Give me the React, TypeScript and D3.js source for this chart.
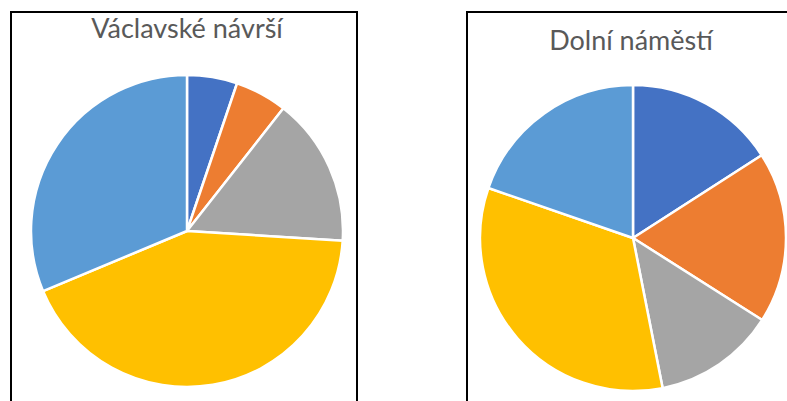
import React from "react";
import * as d3 from "d3";

const categories = ["A", "B", "C", "D", "E"];
const colors = ["#4472C4", "#ED7D31", "#A5A5A5", "#FFC000", "#5B9BD5"];
const valuesLeft = [5.2, 5.4, 15.4, 42.7, 31.3];
const valuesRight = [15.9, 18.1, 12.9, 33.4, 19.7];
const titleLeft = "Václavské návrší";
const titleRight = "Dolní náměstí";

type PieProps = { values: number[]; cx: number; cy: number; r: number };

function Pie({ values, cx, cy, r }: PieProps) {
  const pie = d3.pie<number>().sort(null).value((d) => d);
  const arc = d3.arc<d3.PieArcDatum<number>>().innerRadius(0).outerRadius(r);
  const arcs = pie(values);
  return (
    <g transform={`translate(${cx},${cy})`}>
      {arcs.map((a, i) => (
        <path
          key={categories[i]}
          d={arc(a) || ""}
          fill={colors[i]}
          stroke="#fff"
          strokeWidth={2.5}
          strokeLinejoin="round"
        />
      ))}
    </g>
  );
}

export default function App() {
  return (
    <svg
      width={787}
      height={401}
      style={{ position: "absolute", left: 0, top: 0, background: "#fff" }}
      fontFamily="Lato, 'Open Sans', sans-serif"
    >
      <rect x={0} y={0} width={787} height={401} fill="#fff" />
      <path d="M11,420 V12 H357 V420" fill="none" stroke="#000" strokeWidth={2} />
      <path d="M467,420 V12 H800" fill="none" stroke="#000" strokeWidth={2} />
      <text x={187} y={38} textAnchor="middle" fontSize={27} fill="#595959">
        {titleLeft}
      </text>
      <text x={631} y={50} textAnchor="middle" fontSize={27} fill="#595959">
        {titleRight}
      </text>
      <Pie values={valuesLeft} cx={187} cy={231} r={156} />
      <Pie values={valuesRight} cx={633} cy={238} r={153} />
    </svg>
  );
}
